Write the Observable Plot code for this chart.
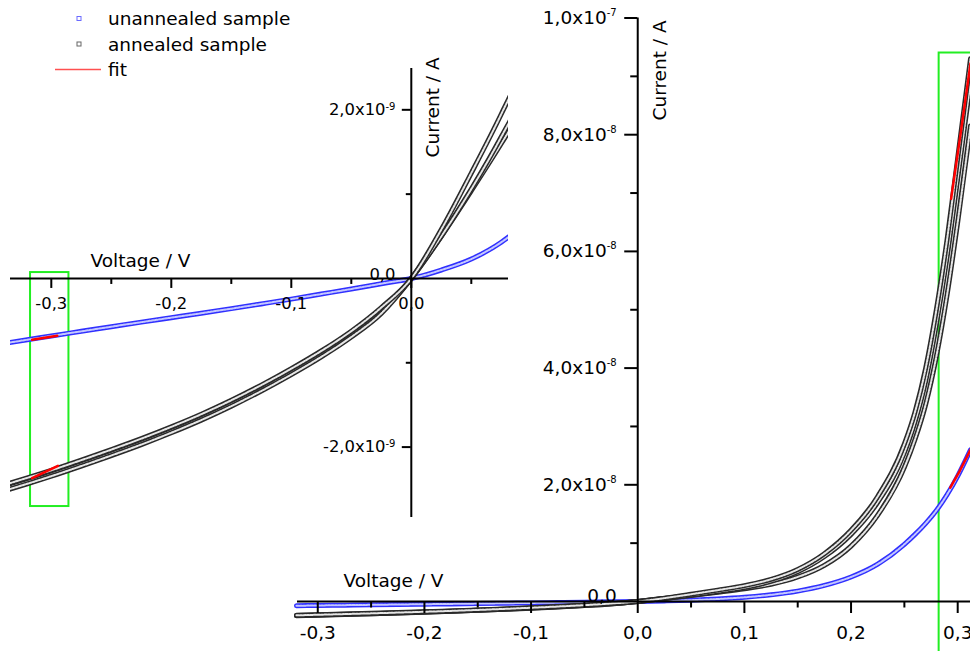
<!DOCTYPE html>
<html><head><meta charset="utf-8">
<script src="https://cdn.jsdelivr.net/npm/d3@7"></script>
<script src="https://cdn.jsdelivr.net/npm/@observablehq/plot@0.6"></script>
<style>
html,body{margin:0;padding:0;background:#fff;overflow:hidden;}
#wrap{position:relative;width:970px;height:651px;overflow:hidden;background:#fff;}
#wrap svg{position:absolute;left:0;top:0;}
</style></head><body><div id="wrap"></div>
<script>
// ---- data (voltage in V, current in nA) ----
const voltage = [-0.335,-0.32,-0.3,-0.275,-0.25,-0.225,-0.2,-0.175,-0.15,-0.125,-0.1,-0.075,-0.05,-0.025,0,
  0.025,0.05,0.075,0.1,0.125,0.15,0.175,0.2,0.225,0.25,0.26,0.27,0.28,0.29,0.3,0.312];
const unannealed = [-0.76,-0.727,-0.682,-0.627,-0.572,-0.518,-0.465,-0.412,-0.358,-0.302,-0.245,-0.185,-0.125,-0.062,0,
  0.1,0.23,0.43,0.72,1.15,1.78,2.75,4.2,6.4,9.8,11.5,13.4,15.6,18.3,21.5,26.0];
const annealedA = [-2.43,-2.365,-2.275,-2.155,-2.03,-1.90,-1.76,-1.61,-1.445,-1.265,-1.07,-0.86,-0.625,-0.345,0,
  0.58,1.25,1.95,2.72,3.8,5.5,8.2,12.2,18.0,27.0,32.5,40.0,50.0,62.0,76.0,93.0];
const annealedB = [-2.50,-2.435,-2.345,-2.225,-2.10,-1.97,-1.83,-1.68,-1.515,-1.335,-1.14,-0.93,-0.695,-0.415,0,
  0.50,1.06,1.68,2.38,3.45,5.1,7.7,11.5,17.0,25.5,30.8,37.8,47.5,59.0,72.5,89.0];
const annealedC = [-2.48,-2.415,-2.325,-2.205,-2.08,-1.95,-1.81,-1.66,-1.495,-1.315,-1.12,-0.91,-0.675,-0.395,0,
  0.50,1.04,1.60,2.20,2.95,4.2,6.2,9.5,14.8,23.0,27.8,33.8,42.0,52.5,65.0,81.5];

// fits
const fitInsetUnannealedV = [-0.316,-0.295], fitInsetUnannealedI = [-0.727,-0.68];
const fitInsetAnnealedV = [-0.316,-0.2945], fitInsetAnnealedI = [-2.368,-2.222];
const fitMainUnannealedV = [0.293,0.302,0.312], fitMainUnannealedI = [19.5,22.4,26.0];
const fitMainAnnealedV = [0.2938,0.303,0.312], fitMainAnnealedI = [69.0,80.5,92.2];

// fit windows (green boxes)
const insetWindow = [{v1:-0.3173, v2:-0.2853, i1:0.07, i2:-2.705}];
const mainWindow = [{v1:0.2826, v2:0.36, i1:94.0, i2:-12}];

// ticks
const mainXMajor = [-0.3,-0.2,-0.1,0,0.1,0.2,0.3];
const mainXMinor = [-0.25,-0.15,-0.05,0.05,0.15,0.25];
const mainYMajor = [20,40,60,80,100];
const mainYMinor = [10,30,50,70,90];
const insetXMajor = [-0.3,-0.2,-0.1,0];
const insetXMinor = [-0.25,-0.15,-0.05,0.05];
const insetYMajor = [-2,2];
const insetYMinor = [-1,1];

const legendItems = [
  {label:"unannealed sample", kind:"square", color:"#6a6aff"},
  {label:"annealed sample", kind:"square", color:"#666"},
  {label:"fit", kind:"line", color:"#ff5050"}
];

// ---- helpers ----
const FONT = "'DejaVu Sans', sans-serif";
const rows = arr => voltage.map((v,i)=>({V:v, I:arr[i]}));
const pairs = (V,I) => V.map((v,i)=>({V:v, I:I[i]}));
const fmtV = v => v.toFixed(1).replace(".", ",");
function sci(n) { // n in nA
  const a = n*1e-9;
  const e = Math.floor(Math.log10(Math.abs(a)) + 1e-9);
  const m = a / Math.pow(10, e);
  return m.toFixed(1).replace(".", ",") + "x10^" + e;
}
function band(data, outer, inner, extra={}) {
  return [
    Plot.line(data, {x:"V", y:"I", curve:"monotone-x", stroke:outer, strokeWidth:5, ...extra}),
    Plot.line(data, {x:"V", y:"I", curve:"monotone-x", stroke:inner, strokeWidth:2, strokeDasharray:"2.2,1.3", ...extra})
  ];
}
function supify(svg, size, shift) {
  d3.select(svg).selectAll("text").each(function() {
    const t = this.textContent;
    const k = t.indexOf("^");
    if (k < 0) return;
    const base = t.slice(0,k), ex = t.slice(k+1);
    this.textContent = "";
    d3.select(this).append("tspan").text(base);
    d3.select(this).append("tspan").attr("dy", shift).attr("font-size", size).text(ex);
  });
}
const BLUE = "#3030ff", BLUE_IN = "#c4c8ff", BLACK = "#2a2a2a", BLACK_IN = "#e6e6e6";
const GREEN = "#22ee22";

// ---- main plot ----
const mainX = [-0.319, 0.312], mainY = [0, 100];
const W = 970, H = 651, mL = 297, mR = 0, mT = 17.5, mB = 50;
const zeroDx = (0 - mainX[0])/(mainX[1]-mainX[0])*(W-mL-mR);
const inMain = d => d.V >= -0.32;

const mainPlot = Plot.plot({
  width: W, height: H, marginLeft: mL, marginRight: mR, marginTop: mT, marginBottom: mB,
  x: {domain: mainX}, y: {domain: mainY},
  style: {fontFamily: FONT, fontSize: "18.5px", background: "none", color: "#000", overflow: "visible"},
  marks: [
    Plot.rect(mainWindow, {x1:"v1", x2:"v2", y1:"i1", y2:"i2", stroke:GREEN, strokeWidth:2, fill:"none"}),
    ...band(rows(unannealed).filter(inMain), BLUE, BLUE_IN),
    ...band(rows(annealedC).filter(inMain), BLACK, BLACK_IN),
    ...band(rows(annealedB).filter(inMain), BLACK, BLACK_IN),
    ...band(rows(annealedA).filter(inMain), BLACK, BLACK_IN),
    Plot.line(pairs(fitMainUnannealedV, fitMainUnannealedI), {x:"V", y:"I", stroke:"#ff0000", strokeWidth:2.5}),
    Plot.line(pairs(fitMainAnnealedV, fitMainAnnealedI), {x:"V", y:"I", stroke:"#ff0000", strokeWidth:2.5}),
    Plot.ruleY([0], {strokeWidth: 2}),
    Plot.ruleX([0], {y1: mainY[0], y2: mainY[1], strokeWidth: 2}),
    Plot.axisX({ticks: mainXMajor, tickSize: 12, tickPadding: 12, strokeWidth: 2, fontSize: 18.5, tickFormat: fmtV, label: null}),
    Plot.axisX({ticks: mainXMinor, tickSize: 6.5, strokeWidth: 2, fill: "none", label: null}),
    Plot.axisY({ticks: mainYMajor, anchor: "left", dx: zeroDx, tickSize: 13, tickPadding: 8, strokeWidth: 2, fontSize: 18.5, tickFormat: sci, label: null}),
    Plot.axisY({ticks: mainYMinor, anchor: "left", dx: zeroDx, tickSize: 7, strokeWidth: 2, fill: "none", label: null}),
    Plot.text([fmtV(0)], {frameAnchor: "bottom-left", dx: zeroDx - 21, dy: -5, textAnchor: "end", lineAnchor: "middle", fontSize: 18.5}),
    Plot.text(["Voltage / V"], {frameAnchor: "bottom-left", dx: 96, dy: -15, textAnchor: "middle", lineAnchor: "bottom", fontSize: 18.5}),
    Plot.text(["Current / A"], {frameAnchor: "top-left", dx: zeroDx + 28, dy: 102.5, rotate: -90, textAnchor: "start", lineAnchor: "bottom", fontSize: 18.5})
  ]
});
supify(mainPlot, 10, -7.9);

// ---- inset plot ----
const insetX = [-0.334, 0.081], insetY = [-2.835, 2.49];
const iW = 520, iH = 530, iL = 10, iR = 12, iT = 68, iB = 13;
const iZeroDx = (0 - insetX[0])/(insetX[1]-insetX[0])*(iW-iL-iR);
const iZeroDy = -(0 - insetY[0])/(insetY[1]-insetY[0])*(iH-iT-iB);

const insetPlot = Plot.plot({
  width: iW, height: iH, marginLeft: iL, marginRight: iR, marginTop: iT, marginBottom: iB,
  x: {domain: insetX}, y: {domain: insetY},
  style: {fontFamily: FONT, fontSize: "16.4px", background: "none", color: "#000", overflow: "visible"},
  marks: [
    Plot.rect(insetWindow, {x1:"v1", x2:"v2", y1:"i1", y2:"i2", stroke:GREEN, strokeWidth:2, fill:"none"}),
    ...band(rows(unannealed), BLUE, BLUE_IN, {clip: true}),
    ...band(rows(annealedC), BLACK, BLACK_IN, {clip: true}),
    ...band(rows(annealedB), BLACK, BLACK_IN, {clip: true}),
    ...band(rows(annealedA), BLACK, BLACK_IN, {clip: true}),
    Plot.line(pairs(fitInsetUnannealedV, fitInsetUnannealedI), {x:"V", y:"I", stroke:"#ff0000", strokeWidth:2.5}),
    Plot.line(pairs(fitInsetAnnealedV, fitInsetAnnealedI), {x:"V", y:"I", stroke:"#ff0000", strokeWidth:2.5}),
    Plot.ruleY([0], {strokeWidth: 2}),
    Plot.ruleX([0], {y1: insetY[0], y2: insetY[1], strokeWidth: 2}),
    Plot.axisX({ticks: insetXMajor, anchor: "bottom", dy: iZeroDy, tickSize: 10, tickPadding: 8.7, strokeWidth: 2, fontSize: 16.4, tickFormat: fmtV, label: null}),
    Plot.axisX({ticks: insetXMinor, anchor: "bottom", dy: iZeroDy, tickSize: 6, strokeWidth: 2, fill: "none", label: null}),
    Plot.axisY({ticks: insetYMajor, anchor: "left", dx: iZeroDx, tickSize: 9, tickPadding: 6.8, strokeWidth: 2, fontSize: 16.4, tickFormat: sci, label: null}),
    Plot.axisY({ticks: insetYMinor, anchor: "left", dx: iZeroDx, tickSize: 5, strokeWidth: 2, fill: "none", label: null}),
    Plot.text([fmtV(0)], {frameAnchor: "bottom-left", dx: iZeroDx - 15.8, dy: iZeroDy - 4, textAnchor: "end", lineAnchor: "middle", fontSize: 16.4}),
    Plot.text(["Voltage / V"], {frameAnchor: "bottom-left", dx: 130, dy: iZeroDy - 11.5, textAnchor: "middle", lineAnchor: "bottom", fontSize: 18.5}),
    Plot.text(["Current / A"], {frameAnchor: "top-left", dx: iZeroDx + 27.2, dy: 89, rotate: -90, textAnchor: "start", lineAnchor: "bottom", fontSize: 18.5})
  ]
});
supify(insetPlot, 10, -5);

// ---- legend ----
const wrap = document.getElementById("wrap");
wrap.appendChild(mainPlot);
wrap.appendChild(insetPlot);
const leg = d3.create("svg").attr("width", 320).attr("height", 90)
  .style("font-family", FONT).style("font-size", "18.5px");
legendItems.forEach((it, i) => {
  const base = 25 + 25.5*i, cy = base - 6.5;
  if (it.kind === "square") {
    leg.append("rect").attr("x", 77).attr("y", cy - 2).attr("width", 4).attr("height", 4)
      .attr("fill", "#fff").attr("stroke", it.color).attr("stroke-width", 1);
  } else {
    leg.append("line").attr("x1", 55).attr("x2", 101).attr("y1", cy).attr("y2", cy)
      .attr("stroke", it.color).attr("stroke-width", 1.5);
  }
  leg.append("text").attr("x", 108).attr("y", base).text(it.label);
});
wrap.appendChild(leg.node());
</script>
</body></html>
